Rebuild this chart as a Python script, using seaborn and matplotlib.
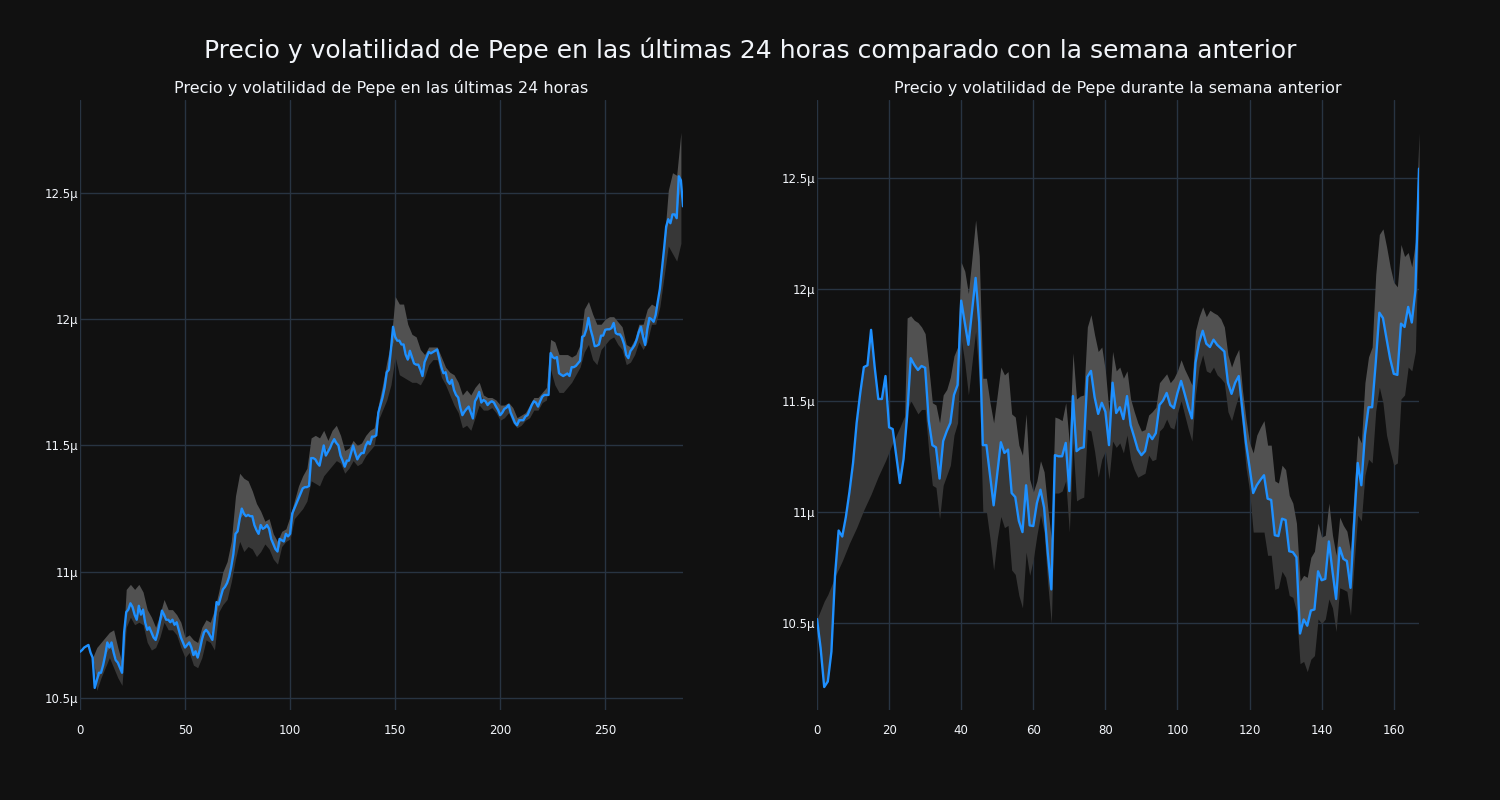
import numpy as np
import pandas as pd
import matplotlib
matplotlib.use("Agg")
import matplotlib.pyplot as plt
from matplotlib.ticker import FuncFormatter, FixedLocator
import seaborn as sns

# ---------------- data (prices in µ units) ----------------
title_main = "Precio y volatilidad de Pepe en las últimas 24 horas comparado con la semana anterior"
title_left = "Precio y volatilidad de Pepe en las últimas 24 horas"
title_right = "Precio y volatilidad de Pepe durante la semana anterior"

# last 24 hours, 5-minute steps (288 points)
price_24h = [
    10.683, 10.69, 10.70, 10.705, 10.71, 10.68, 10.66, 10.54, 10.57, 10.60,
    10.60, 10.63, 10.67, 10.72, 10.70, 10.72, 10.68, 10.65, 10.64, 10.62,
    10.60, 10.76, 10.84, 10.85, 10.875, 10.86, 10.83, 10.81, 10.865, 10.83,
    10.85, 10.80, 10.77, 10.78, 10.76, 10.74, 10.73, 10.76, 10.80, 10.846,
    10.83, 10.81, 10.81, 10.80, 10.81, 10.79, 10.80, 10.77, 10.74, 10.72,
    10.70, 10.71, 10.72, 10.70, 10.67, 10.685, 10.66, 10.69, 10.73, 10.76,
    10.77, 10.76, 10.745, 10.73, 10.80, 10.88, 10.87, 10.90, 10.93, 10.94,
    10.955, 10.98, 11.02, 11.07, 11.15, 11.16, 11.21, 11.25, 11.23, 11.22,
    11.225, 11.22, 11.22, 11.185, 11.165, 11.15, 11.185, 11.17, 11.175, 11.185,
    11.17, 11.13, 11.11, 11.09, 11.08, 11.13, 11.125, 11.12, 11.15, 11.14,
    11.15, 11.23, 11.25, 11.27, 11.29, 11.31, 11.33, 11.335, 11.335, 11.34,
    11.45, 11.45, 11.445, 11.43, 11.42, 11.46, 11.50, 11.46, 11.475, 11.49,
    11.51, 11.525, 11.51, 11.50, 11.46, 11.44, 11.416, 11.44, 11.44, 11.47,
    11.50, 11.47, 11.445, 11.46, 11.47, 11.47, 11.50, 11.515, 11.505, 11.535,
    11.535, 11.54, 11.63, 11.66, 11.69, 11.73, 11.79, 11.80, 11.88, 11.97,
    11.93, 11.915, 11.915, 11.90, 11.90, 11.86, 11.84, 11.875, 11.85, 11.825,
    11.82, 11.82, 11.80, 11.775, 11.83, 11.85, 11.87, 11.865, 11.87, 11.875,
    11.88, 11.845, 11.81, 11.786, 11.79, 11.755, 11.744, 11.76, 11.72, 11.70,
    11.69, 11.65, 11.62, 11.634, 11.645, 11.654, 11.63, 11.607, 11.675, 11.69,
    11.712, 11.67, 11.68, 11.675, 11.66, 11.67, 11.675, 11.67, 11.654, 11.64,
    11.62, 11.63, 11.645, 11.65, 11.66, 11.63, 11.61, 11.59, 11.58, 11.60,
    11.60, 11.60, 11.615, 11.62, 11.64, 11.66, 11.675, 11.67, 11.654, 11.675,
    11.693, 11.70, 11.70, 11.70, 11.866, 11.85, 11.845, 11.85, 11.786, 11.78,
    11.775, 11.78, 11.785, 11.775, 11.81, 11.81, 11.815, 11.825, 11.835, 11.93,
    11.935, 11.96, 12.005, 11.96, 11.93, 11.893, 11.895, 11.90, 11.935, 11.935,
    11.958, 11.96, 11.96, 11.965, 11.985, 11.945, 11.94, 11.94, 11.925, 11.90,
    11.858, 11.846, 11.874, 11.885, 11.898, 11.92, 11.95, 11.97, 11.93, 11.898,
    11.96, 12.005, 12.00, 11.99, 12.017, 12.07, 12.12, 12.20, 12.28, 12.367,
    12.396, 12.38, 12.415, 12.415, 12.40, 12.566, 12.55, 12.447,
]

# volatility band of the last 24 hours, read at every second step (x = 0, 2, ..., 286)
nan = float("nan")
upper_24h = [
    nan, nan, nan, nan, 10.70, 10.72, 10.74, 10.76, 10.77, 10.70,
    10.64, 10.93, 10.95, 10.93, 10.95, 10.92, 10.85, 10.82, 10.78, 10.83,
    10.89, 10.85, 10.85, 10.83, 10.80, 10.74, 10.75, 10.73, 10.72, 10.78,
    10.81, 10.80, 10.85, 10.92, 11.00, 11.04, 11.12, 11.30, 11.39, 11.37,
    11.36, 11.32, 11.27, 11.24, 11.20, 11.21, 11.15, 11.12, 11.16, 11.17,
    11.22, 11.28, 11.34, 11.38, 11.41, 11.53, 11.54, 11.53, 11.56, 11.52,
    11.56, 11.58, 11.54, 11.48, 11.49, 11.52, 11.50, 11.51, 11.54, 11.56,
    11.57, 11.66, 11.74, 11.83, 11.91, 12.09, 12.06, 12.06, 11.98, 11.94,
    11.93, 11.88, 11.86, 11.89, 11.89, 11.89, 11.85, 11.81, 11.79, 11.78,
    11.75, 11.70, 11.72, 11.70, 11.73, 11.75, 11.70, 11.69, 11.69, 11.68,
    11.66, 11.66, 11.67, 11.65, 11.61, 11.62, 11.63, 11.66, 11.69, 11.69,
    11.71, 11.73, 11.92, 11.91, 11.86, 11.86, 11.86, 11.85, 11.86, 11.90,
    12.04, 12.07, 12.02, 11.98, 11.98, 12.00, 12.01, 12.01, 11.99, 11.97,
    11.90, 11.89, 11.92, 11.98, 11.98, 12.04, 12.06, 12.05, 12.13, 12.30,
    12.51, 12.58, 12.57, 12.74,
]
lower_24h = [
    nan, nan, nan, nan, 10.53, 10.58, 10.62, 10.66, 10.62, 10.58,
    10.55, 10.78, 10.82, 10.79, 10.80, 10.79, 10.72, 10.69, 10.70, 10.74,
    10.80, 10.77, 10.77, 10.75, 10.70, 10.66, 10.68, 10.63, 10.62, 10.66,
    10.73, 10.72, 10.69, 10.84, 10.87, 10.89, 10.96, 11.05, 11.12, 11.08,
    11.10, 11.09, 11.06, 11.08, 11.11, 11.09, 11.05, 11.03, 11.10, 11.12,
    11.13, 11.21, 11.23, 11.25, 11.28, 11.36, 11.35, 11.34, 11.38, 11.40,
    11.42, 11.44, 11.43, 11.39, 11.41, 11.44, 11.42, 11.43, 11.46, 11.48,
    11.50, 11.60, 11.64, 11.68, 11.74, 11.85, 11.78, 11.77, 11.76, 11.75,
    11.75, 11.74, 11.77, 11.82, 11.84, 11.84, 11.77, 11.74, 11.70, 11.66,
    11.63, 11.57, 11.58, 11.56, 11.61, 11.66, 11.64, 11.64, 11.65, 11.63,
    11.60, 11.61, 11.63, 11.59, 11.57, 11.58, 11.60, 11.61, 11.64, 11.64,
    11.67, 11.68, 11.80, 11.74, 11.71, 11.71, 11.73, 11.75, 11.78, 11.81,
    11.87, 11.90, 11.84, 11.82, 11.88, 11.90, 11.92, 11.93, 11.90, 11.88,
    11.82, 11.83, 11.86, 11.91, 11.88, 11.91, 11.98, 11.98, 12.05, 12.17,
    12.29, 12.26, 12.23, 12.30,
]

# previous week, hourly steps (168 points)
price_week = [
    10.52, 10.39, 10.215, 10.24, 10.374, 10.716, 10.917, 10.89, 10.977, 11.09,
    11.22, 11.40, 11.534, 11.65, 11.658, 11.817, 11.65, 11.507, 11.507, 11.61,
    11.38, 11.372, 11.25, 11.13, 11.237, 11.43, 11.69, 11.66, 11.637, 11.655,
    11.647, 11.41, 11.30, 11.29, 11.15, 11.318, 11.363, 11.40, 11.525, 11.57,
    11.948, 11.85, 11.75, 11.90, 12.05, 11.85, 11.30, 11.30, 11.165, 11.03,
    11.17, 11.313, 11.265, 11.28, 11.085, 11.067, 10.96, 10.91, 11.12, 10.94,
    10.937, 11.04, 11.10, 11.02, 10.82, 10.653, 11.255, 11.25, 11.25, 11.31,
    11.094, 11.52, 11.273, 11.286, 11.29, 11.606, 11.633, 11.516, 11.44, 11.49,
    11.45, 11.30, 11.58, 11.444, 11.47, 11.417, 11.52, 11.39, 11.336, 11.28,
    11.255, 11.273, 11.35, 11.327, 11.354, 11.48, 11.50, 11.534, 11.48, 11.466,
    11.534, 11.588, 11.53, 11.47, 11.42, 11.67, 11.76, 11.813, 11.755, 11.74,
    11.773, 11.75, 11.735, 11.72, 11.58, 11.53, 11.58, 11.61, 11.46, 11.31,
    11.20, 11.085, 11.12, 11.144, 11.165, 11.06, 11.054, 10.896, 10.892, 10.97,
    10.964, 10.824, 10.82, 10.797, 10.455, 10.518, 10.49, 10.558, 10.563, 10.734,
    10.694, 10.70, 10.868, 10.734, 10.61, 10.84, 10.79, 10.78, 10.66, 10.95,
    11.22, 11.12, 11.345, 11.47, 11.47, 11.67, 11.894, 11.87, 11.777, 11.687,
    11.62, 11.615, 11.845, 11.83, 11.92, 11.85, 11.993, 12.54,
]
upper_week = [
    nan, nan, nan, nan, nan, nan, nan, nan, nan, nan,
    nan, nan, nan, nan, nan, nan, nan, nan, nan, nan,
    nan, nan, nan, nan, nan, 11.87, 11.88, 11.86, 11.85, 11.83,
    11.80, 11.65, 11.49, 11.48, 11.40, 11.525, 11.55, 11.605, 11.70, 11.74,
    12.12, 12.08, 11.98, 12.14, 12.31, 12.15, 11.60, 11.60, 11.49, 11.40,
    11.525, 11.65, 11.615, 11.63, 11.44, 11.426, 11.30, 11.255, 11.44, 11.147,
    11.09, 11.14, 11.23, 11.18, 11.02, 10.88, 11.426, 11.42, 11.41, 11.49,
    11.31, 11.714, 11.507, 11.52, 11.525, 11.83, 11.885, 11.795, 11.72, 11.74,
    11.633, 11.45, 11.72, 11.633, 11.65, 11.60, 11.633, 11.507, 11.45, 11.40,
    11.363, 11.37, 11.435, 11.45, 11.47, 11.58, 11.60, 11.62, 11.58, 11.60,
    11.633, 11.683, 11.64, 11.606, 11.57, 11.813, 11.876, 11.92, 11.876, 11.905,
    11.894, 11.885, 11.867, 11.83, 11.705, 11.65, 11.696, 11.73, 11.55, 11.417,
    11.31, 11.265, 11.345, 11.38, 11.41, 11.30, 11.30, 11.14, 11.13, 11.21,
    11.19, 11.075, 11.04, 10.95, 10.69, 10.716, 10.707, 10.797, 10.824, 10.95,
    10.887, 10.896, 11.04, 10.896, 10.806, 10.977, 10.94, 10.914, 10.824, 11.094,
    11.345, 11.31, 11.58, 11.696, 11.74, 12.065, 12.245, 12.27, 12.19, 12.10,
    12.03, 12.01, 12.20, 12.146, 12.164, 12.10, 12.21, 12.70,
]
lower_week = [
    10.52, 10.56, 10.60, 10.63, 10.67, 10.71, 10.745, 10.78, 10.82, 10.86,
    10.895, 10.93, 10.97, 11.01, 11.045, 11.08, 11.12, 11.16, 11.195, 11.23,
    11.27, 11.31, 11.345, 11.38, 11.42, 11.45, 11.50, 11.47, 11.44, 11.46,
    11.46, 11.27, 11.12, 11.11, 10.97, 11.12, 11.165, 11.21, 11.345, 11.40,
    11.777, 11.67, 11.525, 11.67, 11.81, 11.60, 11.00, 11.00, 10.88, 10.74,
    10.88, 10.98, 10.93, 10.94, 10.74, 10.72, 10.626, 10.57, 10.82, 10.716,
    10.788, 10.896, 10.986, 10.91, 10.68, 10.50, 11.085, 11.085, 11.094, 11.14,
    10.91, 11.31, 11.05, 11.06, 11.067, 11.372, 11.363, 11.273, 11.156, 11.237,
    11.273, 11.147, 11.318, 11.29, 11.31, 11.265, 11.345, 11.237, 11.19, 11.156,
    11.165, 11.174, 11.255, 11.23, 11.237, 11.363, 11.38, 11.417, 11.38, 11.372,
    11.444, 11.50, 11.435, 11.372, 11.318, 11.525, 11.65, 11.705, 11.633, 11.624,
    11.65, 11.615, 11.60, 11.58, 11.45, 11.41, 11.47, 11.525, 11.38, 11.20,
    11.094, 10.91, 10.91, 10.91, 10.91, 10.806, 10.806, 10.653, 10.66, 10.734,
    10.707, 10.626, 10.617, 10.554, 10.32, 10.33, 10.284, 10.34, 10.356, 10.52,
    10.50, 10.52, 10.61, 10.57, 10.464, 10.66, 10.653, 10.644, 10.536, 10.77,
    10.986, 10.96, 11.165, 11.237, 11.22, 11.453, 11.56, 11.49, 11.345, 11.273,
    11.21, 11.22, 11.507, 11.525, 11.65, 11.633, 11.72, 12.35,
]

yticks = [10.5, 11.0, 11.5, 12.0, 12.5]
xticks_left = [0, 50, 100, 150, 200, 250]
xticks_right = [0, 20, 40, 60, 80, 100, 120, 140, 160]

# ---------------- style ----------------
BG = "#111111"
GRID = "#283442"
TEXT = "#f2f5fa"
LINE = "#1e90ff"
UPPER_FILL = "#515151"
LOWER_FILL = "#373737"

sns.set_theme(style="dark")
plt.rcParams.update({
    "figure.facecolor": BG,
    "axes.facecolor": BG,
    "savefig.facecolor": BG,
    "axes.edgecolor": BG,
    "text.color": TEXT,
    "xtick.color": TEXT,
    "ytick.color": TEXT,
    "axes.labelcolor": TEXT,
})
plt.rcParams["font.family"] = ["DejaVu Sans"]

fig = plt.figure(figsize=(15, 8), dpi=100)
ax1 = fig.add_axes([80 / 1500, 1 - 710 / 800, 603 / 1500, 610 / 800])
ax2 = fig.add_axes([817 / 1500, 1 - 710 / 800, 602 / 1500, 610 / 800])


def draw(ax, price, upper, lower, band_step, title, xticks, xlim, ylim):
    price = np.asarray(price)
    n = len(price)
    df = pd.DataFrame({"t": np.arange(n), "precio": price})
    bx = np.arange(0, n, band_step)[: len(upper)]
    p_at_band = price[bx]
    up = np.asarray(upper)
    lo = np.asarray(lower)
    up = np.where(np.isnan(up), p_at_band, up)
    lo = np.where(np.isnan(lo), p_at_band, lo)
    ax.fill_between(bx, lo, p_at_band, color=LOWER_FILL, lw=0, zorder=1)
    ax.fill_between(bx, p_at_band, up, color=UPPER_FILL, lw=0, zorder=1)
    sns.lineplot(data=df, x="t", y="precio", ax=ax, color=LINE, lw=1.7, zorder=3)
    ax.set_xlim(*xlim)
    ax.set_ylim(*ylim)
    ax.xaxis.set_major_locator(FixedLocator(xticks))
    ax.yaxis.set_major_locator(FixedLocator(yticks))
    ax.yaxis.set_major_formatter(FuncFormatter(lambda v, p: f"{v:g}µ"))
    ax.grid(True, color=GRID, lw=1)
    ax.set_axisbelow(True)
    for s in ax.spines.values():
        s.set_visible(False)
    ax.tick_params(length=0, labelsize=8.5, colors=TEXT)
    ax.tick_params(axis="y", pad=1.5)
    ax.tick_params(axis="x", pad=10)
    ax.set_xlabel("")
    ax.set_ylabel("")
    ax.set_title(title, color=TEXT, fontsize=11.5, pad=5)


draw(ax1, price_24h, upper_24h, lower_24h, 2, title_left, xticks_left,
     (0, 287), (10.4525, 12.868))
draw(ax2, price_week, upper_week, lower_week, 1, title_right, xticks_right,
     (0, 167), (10.112, 12.848))

fig.text(0.5, 1 - 50 / 800, title_main, ha="center", va="center",
         fontsize=18, color=TEXT)

fig.savefig("out.png", dpi=100, facecolor=BG)
